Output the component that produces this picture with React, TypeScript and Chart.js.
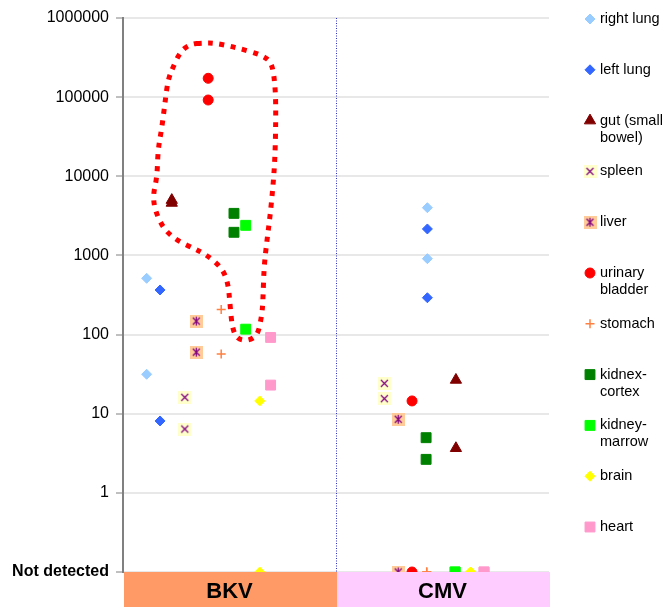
import React, { useEffect, useRef } from 'react';
import { Chart, registerables } from 'chart.js';
import { drawPoint } from 'chart.js/helpers';

Chart.register(...registerables);

const FONT = '"Liberation Sans", Arial, sans-serif';
const ND = 0.1; // "Not detected" is plotted at the bottom of the log axis

const groups = ['BKV', 'CMV'];
const groupColors = ['#FF9966', '#FFCCFF'];

const yTickValues = [0.1, 1, 10, 100, 1000, 10000, 100000, 1000000];
const yTickLabels = ['Not detected', '1', '10', '100', '1000', '10000', '100000', '1000000'];

const organs = [
  'right lung',
  'left lung',
  'gut (small\nbowel)',
  'spleen',
  'liver',
  'urinary\nbladder',
  'stomach',
  'kidnex-\ncortex',
  'kidney-\nmarrow',
  'brain',
  'heart',
];

// x positions inside each group (BKV spans 0..1, CMV spans 1..2)
const xBKV = [0.111, 0.174, 0.229, 0.29, 0.344, 0.4, 0.461, 0.521, 0.576, 0.642, 0.693];
const xCMV = [1.429, 1.429, 1.563, 1.227, 1.292, 1.357, 1.426, 1.423, 1.559, 1.632, 1.695];

// two samples per organ and virus
const bkvA = [514, 366, 5000, 16.1, 148, 173000, 208, 3400, 2400, 14.5, 92];
const bkvB = [31.5, 8.1, 4600, 6.4, 60, 92000, 57, 1960, 117, ND, 23];
const cmvA = [4010, 2160, 26.7, 24.2, 8.5, 14.5, ND, 4.98, ND, ND, ND];
const cmvB = [910, 292, 3.66, 15.5, ND, ND, ND, 2.65, ND, ND, ND];

const fillColors = ['#99CCFF', '#3366FF', '#800000', '#FFFFCC', '#FFCC99', '#FF0000', '#FF8040', '#008000', '#00FF00', '#FFFF00', '#FF99CC'];
const markerRadii = [5, 5, 6.5, 6, 6, 5, 4.5, 7, 7, 5, 7];

// hand-drawn dotted outline (x value, log10 of y value)
const outlineX = [0.376, 0.432, 0.54, 0.653, 0.7, 0.714, 0.718, 0.714, 0.704, 0.69, 0.676, 0.662, 0.657, 0.653, 0.634, 0.587, 0.535, 0.512, 0.502, 0.493, 0.465, 0.394, 0.329, 0.249, 0.188, 0.15, 0.141, 0.16, 0.164, 0.183, 0.197, 0.211, 0.235, 0.268, 0.315];
const outlineLogY = [5.684, 5.684, 5.621, 5.532, 5.431, 5.153, 4.838, 4.244, 3.865, 3.485, 3.195, 2.854, 2.437, 2.272, 1.994, 1.919, 1.944, 2.096, 2.399, 2.652, 2.841, 3.005, 3.094, 3.195, 3.346, 3.574, 3.763, 3.991, 4.332, 4.623, 4.926, 5.217, 5.381, 5.57, 5.671];

const LEGEND_STEP = 50.8;
const LEGEND_LINE = 17;

function makeMarker(bg: string, star: boolean) {
  const c = document.createElement('canvas');
  c.width = 13;
  c.height = 13;
  const g = c.getContext('2d')!;
  g.fillStyle = bg;
  g.fillRect(0, 0, 13, 13);
  g.strokeStyle = '#800080';
  g.lineWidth = 1.2;
  g.beginPath();
  g.moveTo(3, 3);
  g.lineTo(10, 10);
  g.moveTo(10, 3);
  g.lineTo(3, 10);
  if (star) {
    g.moveTo(6.5, 2);
    g.lineTo(6.5, 11);
  }
  g.stroke();
  return c;
}

const separatorPlugin = {
  id: 'separator',
  beforeDatasetsDraw(chart: any) {
    const { ctx, chartArea } = chart;
    const x = Math.round(chart.scales.x.getPixelForValue(1)) + 0.5;
    ctx.save();
    ctx.strokeStyle = '#3030C0';
    ctx.lineWidth = 1;
    ctx.setLineDash([1, 1.5]);
    ctx.beginPath();
    ctx.moveTo(x, chartArea.top);
    ctx.lineTo(x, chartArea.bottom);
    ctx.stroke();
    ctx.restore();
  },
};

const overlayPlugin = {
  id: 'overlay',
  afterDatasetsDraw(chart: any) {
    const { ctx, chartArea } = chart;
    const xs = chart.scales.x;
    const ys = chart.scales.y;
    // dotted outline
    const pts = outlineX.map((x, i) => [xs.getPixelForValue(x), ys.getPixelForValue(Math.pow(10, outlineLogY[i]))]);
    const n = pts.length;
    const mid = (a: number[], b: number[]) => [(a[0] + b[0]) / 2, (a[1] + b[1]) / 2];
    ctx.save();
    ctx.beginPath();
    const m0 = mid(pts[n - 1], pts[0]);
    ctx.moveTo(m0[0], m0[1]);
    for (let i = 0; i < n; i++) {
      const p = pts[i];
      const mm = mid(p, pts[(i + 1) % n]);
      ctx.quadraticCurveTo(p[0], p[1], mm[0], mm[1]);
    }
    ctx.closePath();
    ctx.setLineDash([5, 6.5]);
    ctx.lineWidth = 5;
    ctx.lineCap = 'butt';
    ctx.strokeStyle = '#FF0000';
    ctx.stroke();
    ctx.restore();
    // group bands below the plot
    ctx.save();
    groups.forEach((_, i) => {
      const l = Math.round(xs.getPixelForValue(i));
      const r = Math.round(xs.getPixelForValue(i + 1));
      ctx.fillStyle = groupColors[i];
      ctx.fillRect(l + 1, chartArea.bottom, r - l, chart.height - chartArea.bottom);
    });
    ctx.restore();
  },
};

const legendPlugin = {
  id: 'sideLegend',
  afterDraw(chart: any) {
    const { ctx, chartArea } = chart;
    const mx = chartArea.right + 41;
    const tx = chartArea.right + 51;
    ctx.save();
    chart.data.datasets.forEach((ds: any, i: number) => {
      const y = chartArea.top + 1 + i * LEGEND_STEP;
      ctx.save();
      ctx.setLineDash([]);
      ctx.fillStyle = ds.backgroundColor;
      ctx.strokeStyle = ds.borderColor;
      ctx.lineWidth = ds.borderWidth;
      drawPoint(ctx, { pointStyle: ds.pointStyle, radius: ds.pointRadius, rotation: 0, borderWidth: ds.borderWidth } as any, mx, y);
      ctx.restore();
      ctx.fillStyle = '#000';
      ctx.font = `14.5px ${FONT}`;
      ctx.textBaseline = 'middle';
      ctx.textAlign = 'left';
      String(ds.label).split('\n').forEach((line, k) => {
        ctx.fillText(line, tx, y + k * LEGEND_LINE);
      });
    });
    ctx.restore();
  },
};

export default function App() {
  const ref = useRef<HTMLCanvasElement>(null);

  useEffect(() => {
    if (!ref.current) return;
    const spleenImg = makeMarker('#FFFFCC', false);
    const liverImg = makeMarker('#FFCC99', true);
    const styles: any[] = ['rectRot', 'rectRot', 'triangle', spleenImg, liverImg, 'circle', 'cross', 'rect', 'rect', 'rectRot', 'rect'];

    const datasets = organs.map((name, i) => ({
      label: name,
      data: [
        { x: xBKV[i], y: bkvA[i] },
        { x: xBKV[i], y: bkvB[i] },
        { x: xCMV[i], y: cmvA[i] },
        { x: xCMV[i], y: cmvB[i] },
      ],
      pointStyle: styles[i],
      pointRadius: markerRadii[i],
      backgroundColor: fillColors[i],
      pointBackgroundColor: fillColors[i],
      borderColor: fillColors[i],
      pointBorderColor: fillColors[i],
      borderWidth: i === 6 ? 1.5 : 1,
      pointBorderWidth: i === 6 ? 1.5 : 1,
      showLine: false,
      clip: false as any,
    }));

    const chart = new Chart(ref.current, {
      type: 'scatter',
      data: { datasets },
      options: {
        animation: false,
        responsive: false,
        events: [],
        layout: { padding: { top: 18, right: 117, bottom: 0, left: 0 } },
        plugins: {
          legend: { display: false },
          tooltip: { enabled: false },
        },
        scales: {
          x: {
            type: 'linear',
            min: 0,
            max: 2,
            grid: { display: false, drawTicks: false },
            border: { display: false },
            afterBuildTicks: (s: any) => {
              s.ticks = groups.map((_, i) => ({ value: i + 0.5 }));
            },
            afterFit: (s: any) => {
              s.height = 35;
              s.paddingLeft = 0;
              s.paddingRight = 0;
            },
            ticks: {
              z: 1,
              autoSkip: false,
              maxRotation: 0,
              padding: 7,
              color: '#000',
              font: { family: FONT, size: 22, weight: 'bold' },
              callback: (_v: any, i: number) => groups[i],
            },
          },
          y: {
            type: 'logarithmic',
            min: 0.1,
            max: 1000000,
            afterBuildTicks: (s: any) => {
              s.ticks = yTickValues.map((v) => ({ value: v }));
            },
            afterFit: (s: any) => {
              s.width = 123;
              s.paddingTop = 0;
              s.paddingBottom = 0;
            },
            grid: { color: '#E8E8E8', lineWidth: 2, tickColor: '#808080', tickLength: 7, tickWidth: 1 },
            border: { color: '#808080', width: 2 },
            ticks: {
              autoSkip: false,
              padding: 7,
              color: '#000',
              font: (c: any) => ({ family: FONT, size: 16, weight: c.index === 0 ? 'bold' : 'normal' }),
              callback: (_v: any, i: number) => yTickLabels[i],
            },
          },
        },
      },
      plugins: [separatorPlugin, overlayPlugin, legendPlugin],
    } as any);

    return () => chart.destroy();
  }, []);

  return (
    <div style={{ position: 'fixed', left: 0, top: 0, width: 666, height: 607, background: '#fff' }}>
      <canvas ref={ref} width={666} height={607} style={{ display: 'block', width: 666, height: 607 }} />
    </div>
  );
}
